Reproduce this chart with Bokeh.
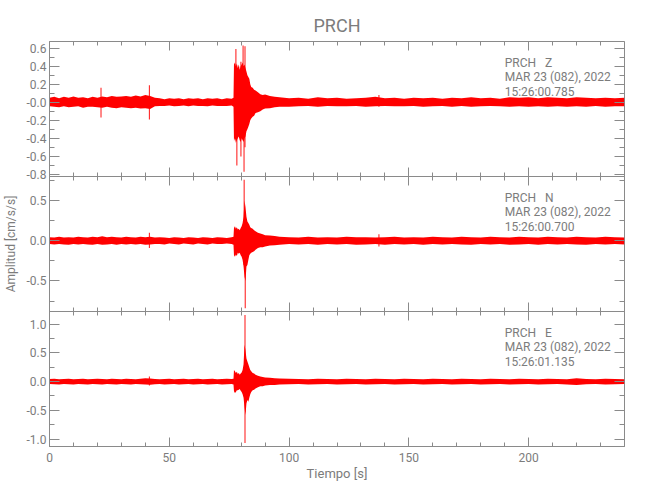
from bokeh.plotting import figure
from bokeh.layouts import column
from bokeh.models import LinearAxis, FixedTicker, Label, Range1d, Grid
from bokeh.embed import file_html
from bokeh.resources import INLINE

# ---------------- data ----------------
# time grid of the envelope samples [s]
t_env = (list(range(0, 77, 2))
         + [76.8, 77.0, 77.4, 77.8, 78.2, 78.6, 79.0, 79.4, 79.8, 80.2, 80.6, 81.0, 81.4, 81.8,
            82.2, 82.6, 83.0, 83.4, 83.8, 84.2, 84.8, 85.4, 86.0, 87.0, 88.0, 89.0, 90.0, 92.0, 94.0, 96.0]
         + list(range(100, 241, 4)))

# Z component envelope (upper / lower) [cm/s/s]
z_hi = ([.05, .06, .045, .06, .05, .065, .05, .055, .045, .06, .05, .065, .055, .07, .06, .065, .07, .06, .075, .065,
         .08, .07, .05, .045, .035, .045, .04, .045, .035, .045, .04, .045, .035, .045, .04, .045, .035, .045, .04]
        + [.05, .42, .44, .40, .43, .38, .42, .36, .40, .42, .44, .40, .42, .38, .34, .30, .28, .26, .20, .17,
           .16, .14, .13, .11, .09, .08, .085, .07, .06, .055]
        + [.045, .05, .04, .055, .045, .05, .04, .045, .05, .06, .045, .05, .04, .05, .045, .05, .04, .05, .045, .055,
           .045, .05, .04, .055, .05, .055, .045, .055, .05, .045, .055, .05, .045, .05, .045, .05])
z_lo = ([-.045, -.05, -.055, -.045, -.055, -.05, -.045, -.06, -.05, -.05, -.055, -.06, -.05, -.06, -.065, -.055, -.06,
         -.065, -.06, -.07, -.065, -.075, -.045, -.04, -.04, -.035, -.045, -.04, -.035, -.045, -.035, -.04, -.04,
         -.045, -.035, -.04, -.04, -.04, -.035]
        + [-.05, -.43, -.40, -.45, -.42, -.40, -.38, -.42, -.44, -.40, -.42, -.44, -.40, -.38, -.32, -.30, -.27,
           -.24, -.20, -.18, -.16, -.15, -.12, -.11, -.10, -.08, -.07, -.065, -.055, -.05]
        + [-.05, -.045, -.04, -.05, -.04, -.045, -.045, -.04, -.05, -.045, -.04, -.045, -.045, -.04, -.05, -.045,
           -.04, -.05, -.04, -.05, -.045, -.04, -.045, -.05, -.045, -.05, -.045, -.05, -.045, -.05, -.045, -.05,
           -.04, -.05, -.045, -.045])
z_spk_t = [21.5, 41.7, 77.8, 78.2, 79.9, 80.8, 81.2, 81.6, 137.5]
z_spk_lo = [-0.17, -0.19, -0.30, -0.70, -0.60, -0.20, -0.77, -0.50, -0.05]
z_spk_hi = [0.16, 0.19, 0.59, 0.20, 0.45, 0.63, 0.20, 0.62, 0.08]

# N component
n_hi = ([.045, .04, .05, .04, .045, .04, .05, .045, .04, .05, .045, .055, .045, .05, .045, .04, .05, .045, .04, .05,
         .045, .05, .04, .045, .04, .035, .045, .04, .035, .045, .04, .035, .045, .04, .035, .045, .04, .035, .045]
        + [.05, .16, .18, .15, .17, .14, .15, .13, .16, .18, .22, .30, .50, .42, .30, .24, .22, .20, .17, .16,
           .15, .13, .12, .10, .09, .08, .07, .065, .06, .05]
        + [.045, .04, .05, .04, .045, .04, .05, .045, .045, .04, .045, .05, .04, .045, .04, .05, .045, .04, .05, .045,
           .04, .05, .045, .04, .05, .045, .04, .05, .045, .04, .05, .045, .04, .05, .045, .04])
n_lo = ([-.04, -.045, -.04, -.045, -.05, -.04, -.045, -.04, -.045, -.05, -.04, -.05, -.045, -.04, -.05, -.04, -.045,
         -.04, -.045, -.04, -.05, -.045, -.04, -.04, -.045, -.035, -.04, -.045, -.035, -.04, -.045, -.035, -.04,
         -.045, -.035, -.04, -.04, -.035, -.04]
        + [-.05, -.18, -.20, -.17, -.19, -.15, -.16, -.15, -.18, -.20, -.24, -.32, -.45, -.50, -.32, -.30, -.24,
           -.18, -.16, -.15, -.14, -.13, -.11, -.09, -.08, -.08, -.07, -.06, -.055, -.05]
        + [-.04, -.045, -.04, -.05, -.04, -.045, -.04, -.05, -.045, -.04, -.05, -.04, -.045, -.04, -.05, -.04,
           -.045, -.04, -.045, -.05, -.04, -.045, -.04, -.05, -.045, -.04, -.05, -.04, -.045, -.04, -.045, -.05,
           -.04, -.045, -.04, -.045])
n_spk_t = [41.7, 81.25, 81.7, 137.5]
n_spk_lo = [-0.09, -0.30, -0.84, -0.07]
n_spk_hi = [0.10, 0.76, 0.35, 0.08]

# E component
e_hi = ([.045, .05, .04, .045, .05, .04, .045, .05, .04, .045, .05, .045, .04, .05, .045, .04, .05, .045, .04, .05,
         .06, .055, .045, .04, .045, .05, .04, .045, .05, .04, .045, .05, .04, .045, .05, .04, .045, .05, .045]
        + [.05, .20, .18, .15, .17, .13, .15, .12, .14, .16, .20, .30, .64, .55, .40, .35, .30, .25, .20, .18,
           .15, .14, .12, .10, .09, .08, .07, .065, .06, .055]
        + [.05, .045, .04, .05, .045, .04, .05, .045, .04, .05, .045, .04, .05, .045, .04, .05, .045, .04, .05, .045,
           .04, .05, .045, .04, .05, .045, .04, .05, .045, .04, .06, .045, .04, .05, .045, .04])
e_lo = ([-.04, -.045, -.05, -.04, -.045, -.05, -.04, -.045, -.05, -.04, -.045, -.05, -.04, -.045, -.05, -.04, -.045,
         -.05, -.04, -.045, -.05, -.055, -.045, -.04, -.05, -.045, -.04, -.05, -.045, -.04, -.05, -.045, -.04,
         -.05, -.045, -.04, -.05, -.045, -.04]
        + [-.05, -.17, -.20, -.18, -.15, -.15, -.14, -.13, -.16, -.18, -.22, -.28, -.45, -.58, -.38, -.32, -.35,
           -.28, -.22, -.18, -.15, -.14, -.12, -.10, -.08, -.08, -.07, -.06, -.06, -.05]
        + [-.045, -.04, -.05, -.045, -.04, -.05, -.045, -.04, -.05, -.045, -.04, -.05, -.045, -.04, -.05, -.045,
           -.04, -.05, -.045, -.04, -.05, -.045, -.04, -.05, -.045, -.04, -.05, -.045, -.04, -.05, -.06, -.045,
           -.04, -.05, -.045, -.04])
e_spk_t = [41.7, 81.6]
e_spk_lo = [-0.07, -1.07]
e_spk_hi = [0.09, 1.16]

# axis ranges and ticks
x_range = (0, 240)
x_ticks = [0, 50, 100, 150, 200]
x_tick_labels = ["0", "50", "100", "150", "200"]
x_minor = list(range(0, 241, 10))

z_range = (-0.823, 0.674)
z_ticks = [-0.8, -0.6, -0.4, -0.2, 0.0, 0.2, 0.4, 0.6]
z_tick_labels = ["-0.8", "-0.6", "-0.4", "-0.2", "-0.0", "0.2", "0.4", "0.6"]
z_minor = [-0.8, -0.7, -0.6, -0.5, -0.4, -0.3, -0.2, -0.1, 0.0, 0.1, 0.2, 0.3, 0.4, 0.5, 0.6]

n_range = (-0.88, 0.80)
n_ticks = [-0.5, 0.0, 0.5]
n_tick_labels = ["-0.5", "0.0", "0.5"]
n_minor = [-0.75, -0.5, -0.25, 0.0, 0.25, 0.5, 0.75]

e_range = (-1.13, 1.22)
e_ticks = [-1.0, -0.5, 0.0, 0.5, 1.0]
e_tick_labels = ["-1.0", "-0.5", "0.0", "0.5", "1.0"]
e_minor = [-1.0, -0.75, -0.5, -0.25, 0.0, 0.25, 0.5, 0.75, 1.0]

title_text = "PRCH"
x_label = "Tiempo [s]"
y_label = "Amplitud [cm/s/s]"
SP = "\u00a0\u00a0\u00a0"
ann_z = ["PRCH" + SP + "Z", "MAR 23 (082), 2022", "15:26:00.785"]
ann_n = ["PRCH" + SP + "N", "MAR 23 (082), 2022", "15:26:00.700"]
ann_e = ["PRCH" + SP + "E", "MAR 23 (082), 2022", "15:26:01.135"]
ann_x = 190  # time where the annotation block starts

# ---------------- styling ----------------
GREY = "#7c7c7c"
LINE = "#8a8a8a"
FONT = "Roboto"
TRACE = "#ff0000"
FW, FH = 575, 135
LEFT, RIGHT = 41, 12
OVER = 8  # px of overlap between stacked panels (room for edge tick labels)


def style_axis(ax, tin, tmin):
    ax.axis_line_color = LINE
    ax.major_tick_line_color = LINE
    ax.minor_tick_line_color = LINE
    ax.major_tick_in = tin
    ax.major_tick_out = 0
    ax.minor_tick_in = tmin
    ax.minor_tick_out = 0
    ax.major_label_text_color = GREY
    ax.major_label_text_font = FONT
    ax.major_label_text_font_size = "12px"
    ax.major_label_standoff = 3
    ax.axis_label_text_color = GREY
    ax.axis_label_text_font = FONT
    ax.axis_label_text_font_style = "normal"


def bare_axis(ticks, minor, loc, tin, tmin):
    ax = LinearAxis(ticker=FixedTicker(ticks=ticks, minor_ticks=minor), fixed_location=loc)
    style_axis(ax, tin, tmin)
    ax.major_label_overrides = {t: "" for t in ticks}
    ax.major_label_standoff = 0
    return ax


def panel(hi, lo, spk_t, spk_lo, spk_hi, yr, yticks, ylabels, yminor, ann,
          first=False, last=False, ylab=None):
    p = figure(frame_width=FW, frame_height=FH,
               x_range=Range1d(*x_range), y_range=Range1d(*yr),
               x_axis_location=None, y_axis_location=None,
               output_backend="svg", toolbar_location=None,
               min_border_left=LEFT, min_border_right=RIGHT,
               min_border_top=0,
               min_border_bottom=40 if last else OVER,
               outline_line_color=LINE,
               background_fill_alpha=0, border_fill_alpha=0)
    for r in list(p.center):
        if isinstance(r, Grid):
            p.center.remove(r)
    p.xgrid.visible = False
    p.ygrid.visible = False

    left = LinearAxis(ticker=FixedTicker(ticks=yticks, minor_ticks=yminor))
    style_axis(left, 10, 5)
    left.major_label_overrides = dict(zip(yticks, ylabels))
    if ylab:
        left.axis_label = ylab
        left.axis_label_text_font_size = "12px"
        left.axis_label_standoff = 6
    p.add_layout(left, "left")
    p.add_layout(bare_axis(yticks, yminor, x_range[1], 10, 5), "right")
    p.add_layout(bare_axis(x_ticks, x_minor, yr[1], 9, 4), "above")
    if last:
        below = LinearAxis(ticker=FixedTicker(ticks=x_ticks, minor_ticks=x_minor))
        style_axis(below, 9, 4)
        below.major_label_overrides = dict(zip(x_ticks, x_tick_labels))
        below.major_label_standoff = 6
        below.axis_label = x_label
        below.axis_label_text_font_size = "13px"
        below.axis_label_standoff = 1
        p.add_layout(below, "below")
    else:
        p.add_layout(bare_axis(x_ticks, x_minor, yr[0], 9, 4), "below")

    p.varea(x=t_env, y1=lo, y2=hi, fill_color=TRACE, fill_alpha=1.0)
    p.segment(x0=spk_t, y0=spk_lo, x1=spk_t, y1=spk_hi, line_color=TRACE, line_width=1.1, line_alpha=0.85)

    for i, txt in enumerate(ann):
        p.add_layout(Label(x=ann_x, y=yr[1], y_offset=-(21 + 14.5 * i), text=txt,
                           text_baseline="middle", text_font_size="12px",
                           text_color=GREY, text_font=FONT))
    if first:
        p.title.text = title_text
        p.title.align = "center"
        p.title.text_font_size = "18px"
        p.title.text_font_style = "normal"
        p.title.text_color = GREY
        p.title.text_font = FONT
        p.title.standoff = 12
        p.margin = (6, 0, 0, 0)
    else:
        p.margin = (-OVER, 0, 0, 0)
    return p


p1 = panel(z_hi, z_lo, z_spk_t, z_spk_lo, z_spk_hi, z_range, z_ticks, z_tick_labels, z_minor, ann_z, first=True)
p2 = panel(n_hi, n_lo, n_spk_t, n_spk_lo, n_spk_hi, n_range, n_ticks, n_tick_labels, n_minor, ann_n, ylab=y_label)
p3 = panel(e_hi, e_lo, e_spk_t, e_spk_lo, e_spk_hi, e_range, e_ticks, e_tick_labels, e_minor, ann_e, last=True)

layout = column(p1, p2, p3, spacing=0)
open("out.html", "w").write(file_html(layout, INLINE))
